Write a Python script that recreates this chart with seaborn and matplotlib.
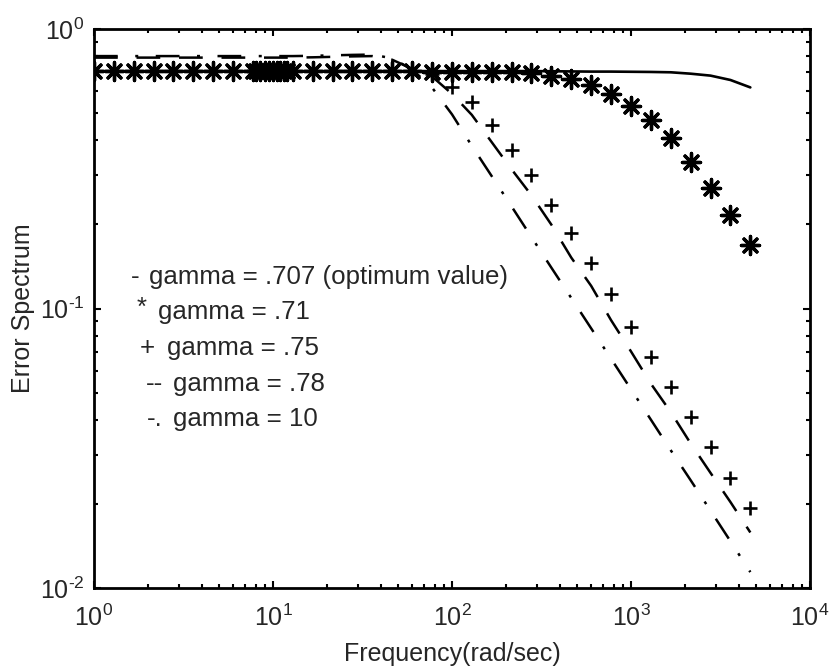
import matplotlib
matplotlib.use("Agg")
import matplotlib.pyplot as plt
from matplotlib.ticker import FuncFormatter
import seaborn as sns
import pandas as pd
import math

# ---------------- data ----------------
freq = [1.0, 1.29, 1.67, 2.15, 2.78, 3.59, 4.64, 5.99, 7.74, 10.0,
        12.9, 16.7, 21.5, 27.8, 35.9, 46.4, 59.9, 77.4, 100.0, 129.0,
        167.0, 215.0, 278.0, 359.0, 464.0, 599.0, 774.0, 1000.0, 1292.0, 1668.0,
        2154.0, 2783.0, 3594.0, 4642.0]

# gamma = .707 (solid line)
err_707 = [0.707, 0.707, 0.707, 0.707, 0.707, 0.707, 0.707, 0.707, 0.707, 0.707,
           0.707, 0.707, 0.707, 0.707, 0.707, 0.707, 0.707, 0.707, 0.707, 0.707,
           0.707, 0.707, 0.707, 0.706, 0.705, 0.704, 0.704, 0.703, 0.702, 0.700,
           0.692, 0.681, 0.657, 0.618]

# gamma = .71 (asterisks)
err_71 = [0.707, 0.707, 0.707, 0.707, 0.707, 0.707, 0.707, 0.707, 0.707, 0.707,
          0.707, 0.707, 0.707, 0.707, 0.707, 0.707, 0.707, 0.703, 0.702, 0.701,
          0.700, 0.700, 0.695, 0.678, 0.660, 0.632, 0.585, 0.530, 0.472, 0.406,
          0.333, 0.269, 0.216, 0.169]
# extra densely sampled points around 10 rad/sec (asterisks)
freq_dense = [8.0, 8.5, 9.0, 9.5, 10.5, 11.0, 11.5, 12.0]
err_71_dense = [0.707, 0.707, 0.707, 0.707, 0.707, 0.707, 0.707, 0.707]

# gamma = .75 (plus markers)
err_75 = [0.707, 0.707, 0.707, 0.707, 0.707, 0.707, 0.707, 0.707, 0.707, 0.707,
          0.707, 0.707, 0.707, 0.707, 0.707, 0.707, 0.707, 0.690, 0.622, 0.549,
          0.454, 0.369, 0.300, 0.235, 0.186, 0.1455, 0.1127, 0.0861, 0.0669, 0.0522,
          0.0408, 0.0320, 0.0247, 0.0193]

# gamma = .78 (dashed)
err_78 = [0.790, 0.790, 0.790, 0.790, 0.790, 0.790, 0.790, 0.790, 0.790, 0.790,
          0.790, 0.792, 0.795, 0.798, 0.800, 0.776, 0.720, 0.676, 0.586, 0.493,
          0.393, 0.315, 0.254, 0.1995, 0.152, 0.1205, 0.0908, 0.0702, 0.0538, 0.0426,
          0.0329, 0.0258, 0.0203, 0.0158]

# gamma = 10 (dash-dot)
err_10 = [0.800, 0.800, 0.800, 0.800, 0.800, 0.800, 0.800, 0.800, 0.800, 0.800,
          0.800, 0.802, 0.805, 0.808, 0.810, 0.785, 0.716, 0.617, 0.495, 0.382,
          0.297, 0.232, 0.180, 0.140, 0.109, 0.0849, 0.0661, 0.0514, 0.0400, 0.0311,
          0.0243, 0.0189, 0.0147, 0.0114]

legend_symbols = ["-", "*", "+", "--", "-."]
legend_labels = ["gamma = .707 (optimum value)",
                 "gamma = .71",
                 "gamma = .75",
                 "gamma = .78",
                 "gamma = 10"]

x_label = "Frequency(rad/sec)"
y_label = "Error Spectrum"

# ---------------- plot ----------------
sns.set_style("ticks")
plt.rcParams["font.family"] = ["Liberation Sans", "DejaVu Sans"]
plt.rcParams["mathtext.fontset"] = "custom"
plt.rcParams["mathtext.rm"] = "Liberation Sans"
plt.rcParams["mathtext.it"] = "Liberation Sans:italic"

W, H = 832, 672
fig = plt.figure(figsize=(W / 100, H / 100), dpi=100)
ax = fig.add_axes([94 / W, 1 - 588 / H, (810 - 94) / W, (588 - 29) / H])

df = pd.DataFrame({"freq": freq, "g707": err_707, "g71": err_71,
                   "g75": err_75, "g78": err_78, "g10": err_10})
df_dense = pd.DataFrame({"freq": freq_dense, "g71": err_71_dense})

sns.lineplot(data=df, x="freq", y="g707", ax=ax, color="black", lw=1.9,
             estimator=None, sort=True)
sns.lineplot(data=df, x="freq", y="g78", ax=ax, color="black", lw=1.8,
             estimator=None, linestyle=(0, (9.5, 7.5)))
sns.lineplot(data=df, x="freq", y="g10", ax=ax, color="black", lw=1.8,
             estimator=None, linestyle=(0, (9.5, 7.0, 1.2, 7.0)))
sns.scatterplot(data=df, x="freq", y="g75", ax=ax, marker="+", s=105,
                color="black", linewidth=1.9, zorder=3)
sns.scatterplot(data=df, x="freq", y="g71", ax=ax, marker=(8, 2, 0), s=170,
                color="black", edgecolor="black", linewidth=2.4, zorder=3)
sns.scatterplot(data=df_dense, x="freq", y="g71", ax=ax, marker=(8, 2, 0), s=170,
                color="black", edgecolor="black", linewidth=2.4, zorder=3)

ax.set_xscale("log")
ax.set_yscale("log")
ax.set_xlim(1, 1e4)
ax.set_ylim(1e-2, 1)


def pow10(v, pos):
    e = int(round(math.log10(v)))
    if e < 0:
        return r"$\mathdefault{10^{\text{-}%d}}$" % (-e)
    return r"$\mathdefault{10^{%d}}$" % e


ax.xaxis.set_major_formatter(FuncFormatter(pow10))
ax.yaxis.set_major_formatter(FuncFormatter(pow10))

for sp in ax.spines.values():
    sp.set_linewidth(2.0)
    sp.set_color("black")
    sp.set_visible(True)

ax.tick_params(which="both", direction="in", top=True, right=True,
               color="black", width=1.5)
ax.tick_params(which="major", length=5, labelsize=18)
ax.tick_params(axis="x", which="major", pad=12)
ax.tick_params(axis="y", which="major", pad=7)
ax.tick_params(which="minor", length=3)

ax.set_xlabel(x_label, fontsize=18, labelpad=8)
ax.set_ylabel(y_label, fontsize=18, labelpad=3)

sym_x = [131, 137, 140, 146, 147]
lab_x = [149, 158, 167, 173, 173]
row_y = [277, 312, 348, 384, 419]
sym_dy = [0, -4, 0, 0, 0]
for sym, lab, sx, lx, py, dy in zip(legend_symbols, legend_labels, sym_x, lab_x, row_y, sym_dy):
    fig.text(sx / W, 1 - (py + dy) / H, sym, fontsize=18.6, ha="left", va="center")
    fig.text(lx / W, 1 - py / H, lab, fontsize=18.6, ha="left", va="center")

fig.savefig("out.png", dpi=100)
